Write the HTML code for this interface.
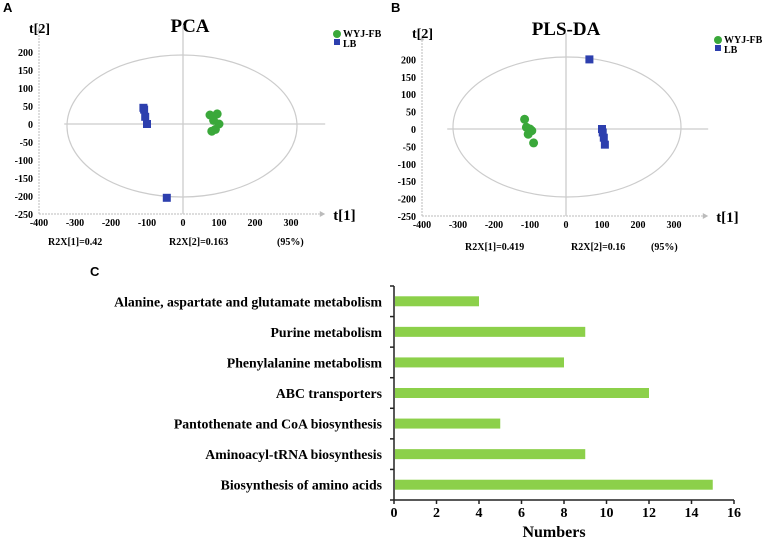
<!DOCTYPE html>
<html><head><meta charset="utf-8"><style>
body{margin:0;background:#fff;}
svg{display:block;font-family:"Liberation Serif",serif;font-weight:bold;}
</style></head><body>
<svg width="767" height="542" viewBox="0 0 767 542" id="fig">
<g id="pa"></g>
<g id="pb"></g>
<g id="pc"></g>
</svg>
<script>
// PCA data
const pcaGreenX=[75,95,85,100,90,80];
const pcaGreenY=[25,28,10,0,-15,-20];
const pcaBlueX=[-110,-108,-105,-100,-45];
const pcaBlueY=[45,40,20,0,-205];
// PLS-DA data
const plsGreenX=[-115,-110,-100,-95,-105,-90];
const plsGreenY=[28,5,0,-5,-15,-40];
const plsBlueX=[65,100,102,105,108];
const plsBlueY=[200,0,-10,-25,-45];
const scoreXTicks=[-400,-300,-200,-100,0,100,200,300];
const scoreYTicks=[200,150,100,50,0,-50,-100,-150,-200,-250];
// Bar data
const categories=["Alanine, aspartate and glutamate metabolism","Purine metabolism","Phenylalanine metabolism","ABC transporters","Pantothenate and CoA biosynthesis","Aminoacyl-tRNA biosynthesis","Biosynthesis of amino acids"];
const counts=[4,9,8,12,5,9,15];
const barTicks=[0,2,4,6,8,10,12,14,16];

const NS="http://www.w3.org/2000/svg";
function mk(p,tag,a,txt){const e=document.createElementNS(NS,tag);for(const k in a)e.setAttribute(k,a[k]);if(txt!==undefined)e.textContent=txt;p.appendChild(e);return e;}

function scatter(g,cfg){
  const sx=v=>cfg.x0+v*cfg.kx, sy=v=>cfg.y0-v*cfg.ky;
  const L=sx(-400), B=sy(-250);
  let e=mk(g,'text',{x:cfg.lx,y:cfg.titleY,'font-size':19,'text-anchor':'middle'},cfg.title);
  
  e=mk(g,'text',{x:cfg.panelX,y:12,'font-size':13,'font-family':'Liberation Sans, sans-serif'},cfg.letter);
  
  e=mk(g,'line',{x1:L,y1:B,x2:sx(380),y2:B,stroke:'#bbb','stroke-width':1,'stroke-dasharray':'2,1'});
  
  mk(g,'path',{d:`M${sx(380)} ${B-3}L${sx(395)} ${B}L${sx(380)} ${B+3}Z`,fill:'#bbb'});
  e=mk(g,'line',{x1:L,y1:B,x2:L,y2:sy(265),stroke:'#bbb','stroke-width':1,'stroke-dasharray':'2,1'});
  
  mk(g,'path',{d:`M${L-2} ${sy(255)}L${L} ${sy(270)}L${L+2} ${sy(255)}Z`,fill:'#bbb'});
  e=mk(g,'text',{x:sx(395)+8,y:B+6,'font-size':15},'t[1]');
  
  e=mk(g,'text',{x:L-10,y:cfg.t2y,'font-size':14},'t[2]');
  
  mk(g,'line',{x1:sx(0),y1:sy(275),x2:sx(0),y2:B,stroke:'#ccc','stroke-width':1.3});
  mk(g,'line',{x1:sx(-330),y1:sy(0),x2:sx(395),y2:sy(0),stroke:'#ccc','stroke-width':1.3});
  e=mk(g,'ellipse',{cx:cfg.ecx,cy:cfg.ecy,rx:cfg.erx,ry:cfg.ery,fill:'none',stroke:'#ccc','stroke-width':1.2});
  
  scoreXTicks.forEach(t=>{const x=mk(g,'text',{x:sx(t),y:B+12,'font-size':10,'text-anchor':'middle'},t);
    });
  scoreYTicks.forEach(t=>{const x=mk(g,'text',{x:L-6,y:sy(t)+4,'font-size':10,'text-anchor':'end'},t);
    });
  cfg.notes.forEach(n=>{const x=mk(g,'text',{x:n[0],y:n[1],'font-size':10},n[2]);
    });
  cfg.gx.forEach((v,i)=>{const c=mk(g,'circle',{cx:sx(v),cy:sy(cfg.gy[i]),r:4.5,fill:'#3aa83a'});
    });
  cfg.bx.forEach((v,i)=>{const r=mk(g,'rect',{x:sx(v)-4,y:sy(cfg.by[i])-4,width:8,height:8,fill:'#2d3fae'});
    });
  const lg=mk(g,'g',{});
  
  const c=mk(lg,'circle',{cx:cfg.legX,cy:cfg.legY,r:4,fill:'#3aa83a'});
  
  let t=mk(lg,'text',{x:cfg.legX+6,y:cfg.legY+3,'font-size':10},'WYJ-FB');
  
  const r=mk(lg,'rect',{x:cfg.legX-3,y:cfg.legY+5,width:6,height:6,fill:'#2d3fae'});
  
  t=mk(lg,'text',{x:cfg.legX+6,y:cfg.legY+13,'font-size':10},'LB');
  
}
scatter(document.getElementById('pa'),{x0:183,kx:0.36,y0:124,ky:0.36,title:'PCA',lx:190,titleY:32,letter:'A',panelX:3,t2y:33,
  ecx:182,ecy:126,erx:115,ery:71,gx:pcaGreenX,gy:pcaGreenY,bx:pcaBlueX,by:pcaBlueY,legX:337,legY:34,
  notes:[[48,245,'R2X[1]=0.42'],[169,245,'R2X[2]=0.163'],[277,245,'(95%)']]});
scatter(document.getElementById('pb'),{x0:566,kx:0.36,y0:129,ky:0.348,title:'PLS-DA',lx:566,titleY:35,letter:'B',panelX:391,t2y:38,
  ecx:567,ecy:127,erx:114,ery:70,gx:plsGreenX,gy:plsGreenY,bx:plsBlueX,by:plsBlueY,legX:718,legY:40,
  notes:[[465,250,'R2X[1]=0.419'],[571,250,'R2X[2]=0.16'],[651,250,'(95%)']]});

(function(){
  const g=document.getElementById('pc');
  const x0=394,kx=21.25,top=286,bot=500,step=(bot-top)/categories.length;
  const sx=v=>x0+v*kx;
  let e=mk(g,'text',{x:90,y:276,'font-size':13,'font-family':'Liberation Sans, sans-serif'},'C');
  
  e=mk(g,'line',{x1:x0,y1:top,x2:x0,y2:bot,stroke:'#222','stroke-width':1.5});
  
  e=mk(g,'line',{x1:x0,y1:bot,x2:sx(16),y2:bot,stroke:'#222','stroke-width':1.5});
  
  for(let i=0;i<=categories.length;i++)mk(g,'line',{x1:x0-4,y1:top+i*step,x2:x0,y2:top+i*step,stroke:'#222','stroke-width':1.5});
  categories.forEach((c,i)=>{
    const cy=top+(i+0.5)*step;
    const r=mk(g,'rect',{x:x0+1,y:cy-5,width:sx(counts[i])-x0-1,height:10,fill:'#8cd04a'});
    
    const t=mk(g,'text',{x:382,y:cy+5,'font-size':13.8,'text-anchor':'end'},c);
    
  });
  barTicks.forEach(v=>{
    mk(g,'line',{x1:sx(v),y1:bot,x2:sx(v),y2:bot+4,stroke:'#222','stroke-width':1.5});
    const t=mk(g,'text',{x:sx(v),y:bot+17,'font-size':14,'text-anchor':'middle'},v);
    
  });
  e=mk(g,'text',{x:554,y:537,'font-size':16,'text-anchor':'middle'},'Numbers');
  
})();
</script>
</body></html>
